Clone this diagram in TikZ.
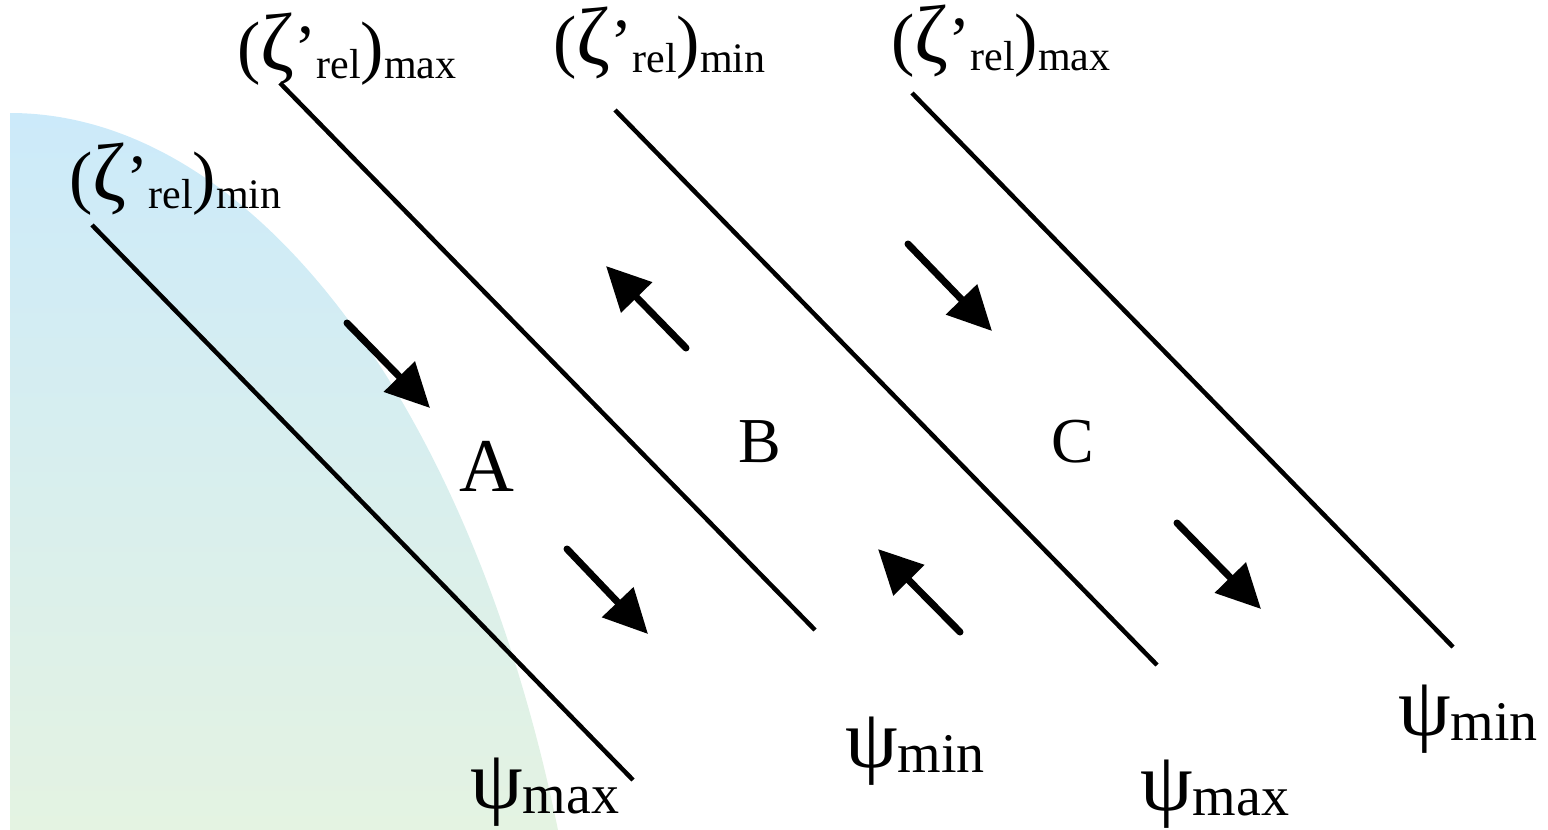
\documentclass[tikz,border=0pt]{standalone}
\usepackage{fontspec}
\setmainfont{Liberation Serif}
\usetikzlibrary{arrows.meta}
\newcommand\sublow[1]{\raisebox{-8pt}{\fontsize{42}{42}\selectfont #1}}
\newcommand\zlab[1]{{\fontsize{70}{70}\selectfont(}{\fontsize{82}{82}\selectfont ζ}{\fontsize{66}{66}\selectfont’}\sublow{rel}{\fontsize{70}{70}\selectfont)}\sublow{#1}}
\newcommand\plab[1]{\raisebox{5pt}{\fontsize{84}{84}\selectfont ψ}{\fontsize{56}{56}\selectfont #1}}
\tikzset{
  lab/.style={inner sep=0pt, anchor=base west},
  big/.style={inner sep=0pt, font=\fontsize{64}{64}\selectfont},
  boundary/.style={line width=4.5pt},
  flow/.style={line width=7pt, line cap=round, -{Triangle[length=44pt,width=42pt]}}
}
\begin{document}
\begin{tikzpicture}[x=1pt,y=-1pt]
\useasboundingbox (0,0) rectangle (1548,830);
% shaded region
\shade[top color={rgb,255:red,204;green,234;blue,250}, bottom color={rgb,255:red,228;green,243;blue,226}]
  (10,830) -- (10,113) .. controls (250,113) and (470,400) .. (558,830) -- cycle;
% line end points
\coordinate (l1a) at (92,225);  \coordinate (l1b) at (633,780);
\coordinate (l2a) at (280,83);  \coordinate (l2b) at (815,630);
\coordinate (l3a) at (615,110); \coordinate (l3b) at (1157,665);
\coordinate (l4a) at (912,93);  \coordinate (l4b) at (1453,647);
\draw[boundary] (l1a) -- (l1b);
\draw[boundary] (l2a) -- (l2b);
\draw[boundary] (l3a) -- (l3b);
\draw[boundary] (l4a) -- (l4b);
% flow arrows
\coordinate (a1t) at (347,323);  \coordinate (a1h) at (430,408);
\coordinate (a2t) at (567,549);  \coordinate (a2h) at (648,634);
\coordinate (b1t) at (686,348);  \coordinate (b1h) at (606,266);
\coordinate (b2t) at (960,632);  \coordinate (b2h) at (878,549);
\coordinate (c1t) at (908,244);  \coordinate (c1h) at (992,331);
\coordinate (c2t) at (1177,523); \coordinate (c2h) at (1261,609);
\draw[flow] (a1t) -- (a1h);
\draw[flow] (a2t) -- (a2h);
\draw[flow] (b1t) -- (b1h);
\draw[flow] (b2t) -- (b2h);
\draw[flow] (c1t) -- (c1h);
\draw[flow] (c2t) -- (c2h);
% labels
\node[lab] (z1) at (237,70) {\zlab{max}};
\node[lab] (z2) at (553,64) {\zlab{min}};
\node[lab] (z3) at (891,62) {\zlab{max}};
\node[lab] (z4) at (69,200) {\zlab{min}};
\node[lab] (p1) at (470,813) {\plab{max}};
\node[lab] (p2) at (845,772) {\plab{min}};
\node[lab] (p3) at (1140,815) {\plab{max}};
\node[lab] (p4) at (1398,740) {\plab{min}};
\node[big, font=\fontsize{76}{76}\selectfont] (A) at (487,466) {A};
\node[big] (B) at (760,442) {B};
\node[big] (C) at (1073,442) {C};
\end{tikzpicture}
\end{document}
